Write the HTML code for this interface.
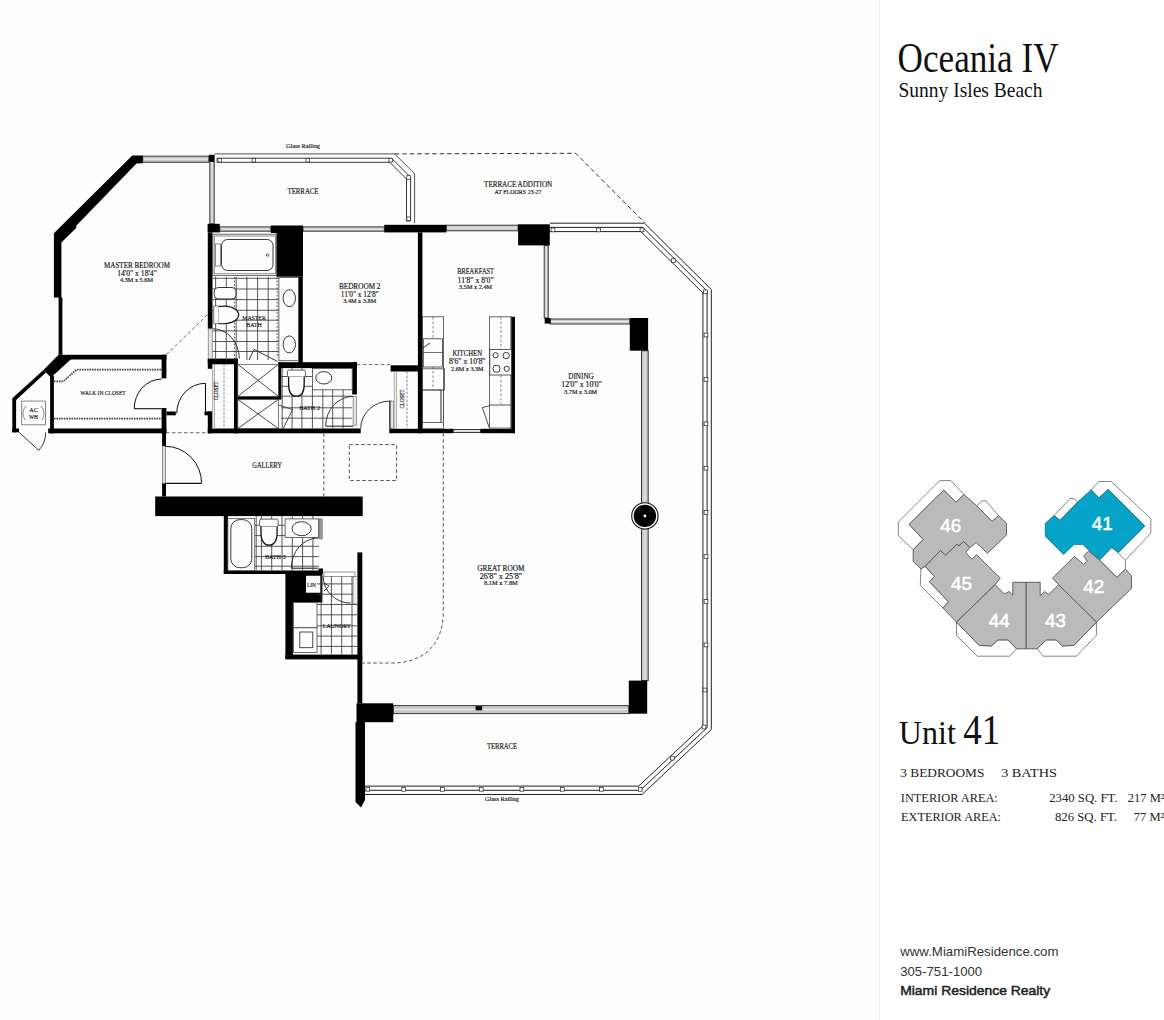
<!DOCTYPE html>
<html><head><meta charset="utf-8"><style>
html,body{margin:0;padding:0;background:#fff;}
body{width:1164px;height:1020px;overflow:hidden;position:relative;font-family:"Liberation Serif",serif;}
.left{position:absolute;left:0;top:0;width:879px;height:1020px;background:#fdfdfd;}
.sep{position:absolute;left:879px;top:0;width:1px;height:1020px;background:#f3f3f3;}
svg{position:absolute;left:0;top:0;}
</style></head><body>
<div class="left"></div><div class="sep"></div>
<svg width="1164" height="1020" viewBox="0 0 1164 1020">
<g id="plan">
<polyline points="549.8,223.2 644.5,223.2 711.3,289.5 711.3,729.5 642.0,794.5 365.0,794.5" fill="none" stroke="#222" stroke-width="1.0" />
<polyline points="549.8,227.4 642.8,227.4 707.1,291.2 707.1,727.7 640.3,790.3 365.0,790.3" fill="none" stroke="#222" stroke-width="1.0" />
<polyline points="549.8,231.6 641.0,231.6 702.9,293.0 702.9,725.9 638.7,786.1 365.0,786.1" fill="none" stroke="#222" stroke-width="1.0" />
<rect x="551.1" y="228.0" width="3.8" height="3.8" fill="#fff" stroke="#222" stroke-width="0.7"/>
<rect x="596.7" y="228.0" width="3.8" height="3.8" fill="#fff" stroke="#222" stroke-width="0.7"/>
<rect x="640.1" y="228.0" width="3.8" height="3.8" fill="#fff" stroke="#222" stroke-width="0.7"/>
<rect x="671.4" y="258.8" width="3.8" height="3.8" fill="#fff" stroke="#222" stroke-width="0.7"/>
<rect x="703.5" y="290.0" width="3.8" height="3.8" fill="#fff" stroke="#222" stroke-width="0.7"/>
<rect x="704.1" y="333.1" width="3.8" height="3.8" fill="#fff" stroke="#222" stroke-width="0.7"/>
<rect x="704.1" y="377.5" width="3.8" height="3.8" fill="#fff" stroke="#222" stroke-width="0.7"/>
<rect x="704.1" y="421.9" width="3.8" height="3.8" fill="#fff" stroke="#222" stroke-width="0.7"/>
<rect x="704.1" y="466.3" width="3.8" height="3.8" fill="#fff" stroke="#222" stroke-width="0.7"/>
<rect x="704.1" y="510.6" width="3.8" height="3.8" fill="#fff" stroke="#222" stroke-width="0.7"/>
<rect x="704.1" y="554.7" width="3.8" height="3.8" fill="#fff" stroke="#222" stroke-width="0.7"/>
<rect x="704.1" y="599.5" width="3.8" height="3.8" fill="#fff" stroke="#222" stroke-width="0.7"/>
<rect x="704.1" y="643.0" width="3.8" height="3.8" fill="#fff" stroke="#222" stroke-width="0.7"/>
<rect x="703.1" y="688.1" width="3.8" height="3.8" fill="#fff" stroke="#222" stroke-width="0.7"/>
<rect x="702.1" y="725.1" width="3.8" height="3.8" fill="#fff" stroke="#222" stroke-width="0.7"/>
<rect x="670.4" y="756.2" width="3.8" height="3.8" fill="#fff" stroke="#222" stroke-width="0.7"/>
<rect x="638.3" y="787.4" width="3.8" height="3.8" fill="#fff" stroke="#222" stroke-width="0.7"/>
<rect x="599.5" y="787.4" width="3.8" height="3.8" fill="#fff" stroke="#222" stroke-width="0.7"/>
<rect x="560.4" y="787.4" width="3.8" height="3.8" fill="#fff" stroke="#222" stroke-width="0.7"/>
<rect x="520.0" y="787.4" width="3.8" height="3.8" fill="#fff" stroke="#222" stroke-width="0.7"/>
<rect x="479.3" y="787.4" width="3.8" height="3.8" fill="#fff" stroke="#222" stroke-width="0.7"/>
<rect x="440.6" y="787.4" width="3.8" height="3.8" fill="#fff" stroke="#222" stroke-width="0.7"/>
<rect x="401.8" y="787.4" width="3.8" height="3.8" fill="#fff" stroke="#222" stroke-width="0.7"/>
<rect x="365.9" y="787.4" width="3.8" height="3.8" fill="#fff" stroke="#222" stroke-width="0.7"/>
<polyline points="214.5,153.9 394.7,153.9 414.6,173.8 414.6,222.9" fill="none" stroke="#222" stroke-width="0.8" />
<polyline points="217.0,158.2 391.5,158.2 410.6,177.3 410.6,221.0" fill="none" stroke="#222" stroke-width="0.9" />
<polyline points="217.0,162.3 389.8,162.3 406.5,179.0 406.5,221.0" fill="none" stroke="#222" stroke-width="0.9" />
<path d="M217,158.2 L217,162.3" stroke="#222" stroke-width="0.8"/>
<path d="M410.6,221 L406.5,221" stroke="#222" stroke-width="0.8"/>
<rect x="218.0" y="158.4" width="3.6" height="3.6" fill="#fff" stroke="#222" stroke-width="0.7"/>
<rect x="252.1" y="158.4" width="3.6" height="3.6" fill="#fff" stroke="#222" stroke-width="0.7"/>
<rect x="306.0" y="158.4" width="3.6" height="3.6" fill="#fff" stroke="#222" stroke-width="0.7"/>
<rect x="388.9" y="158.4" width="3.6" height="3.6" fill="#fff" stroke="#222" stroke-width="0.7"/>
<rect x="406.8" y="175.7" width="3.6" height="3.6" fill="#fff" stroke="#222" stroke-width="0.7"/>
<rect x="406.8" y="217.0" width="3.6" height="3.6" fill="#fff" stroke="#222" stroke-width="0.7"/>
<polyline points="394.7,153.9 575.8,153.3 644.5,222.5" fill="none" stroke="#333" stroke-width="1.0" stroke-dasharray="4.5,3"/>
<rect x="142.7" y="156.2" width="66.2" height="6.1" fill="#c8c8c8" stroke="#3a3a3a" stroke-width="1"/>
<line x1="143.7" y1="159.2" x2="207.9" y2="159.2" stroke="#f4f4f4" stroke-width="0.9"/>
<rect x="209.8" y="161.5" width="4.4" height="62.3" fill="#c8c8c8" stroke="#3a3a3a" stroke-width="1"/>
<line x1="212.0" y1="162.5" x2="212.0" y2="222.8" stroke="#f4f4f4" stroke-width="0.9"/>
<rect x="219.8" y="226.9" width="51.1" height="4.3" fill="#c8c8c8" stroke="#3a3a3a" stroke-width="1"/>
<line x1="220.8" y1="229.1" x2="269.9" y2="229.1" stroke="#f4f4f4" stroke-width="0.9"/>
<rect x="303.0" y="226.9" width="81.3" height="4.3" fill="#c8c8c8" stroke="#3a3a3a" stroke-width="1"/>
<line x1="304.0" y1="229.1" x2="383.3" y2="229.1" stroke="#f4f4f4" stroke-width="0.9"/>
<rect x="446.3" y="225.2" width="71.8" height="5.6" fill="#c8c8c8" stroke="#3a3a3a" stroke-width="1"/>
<line x1="447.3" y1="228.0" x2="517.1" y2="228.0" stroke="#f4f4f4" stroke-width="0.9"/>
<rect x="544.2" y="245.6" width="4.0" height="72.4" fill="#c8c8c8" stroke="#3a3a3a" stroke-width="1"/>
<line x1="546.2" y1="246.6" x2="546.2" y2="317.0" stroke="#f4f4f4" stroke-width="0.9"/>
<rect x="550.4" y="319.0" width="79.4" height="5.0" fill="#c8c8c8" stroke="#3a3a3a" stroke-width="1"/>
<line x1="551.4" y1="321.5" x2="628.8" y2="321.5" stroke="#f4f4f4" stroke-width="0.9"/>
<rect x="641.5" y="350.7" width="6.7" height="329.9" fill="#c8c8c8" stroke="#3a3a3a" stroke-width="1"/>
<line x1="644.9" y1="351.7" x2="644.9" y2="679.6" stroke="#f4f4f4" stroke-width="0.9"/>
<rect x="393.3" y="705.6" width="235.5" height="8.0" fill="#c8c8c8" stroke="#3a3a3a" stroke-width="1"/>
<line x1="394.3" y1="709.6" x2="627.8" y2="709.6" stroke="#f4f4f4" stroke-width="0.9"/>
<rect x="453.2" y="429.5" width="27.4" height="3.0" fill="#c8c8c8" stroke="#3a3a3a" stroke-width="1"/>
<line x1="454.2" y1="431.0" x2="479.6" y2="431.0" stroke="#f4f4f4" stroke-width="0.9"/>
<rect x="475.6" y="706.2" width="6.6" height="4.1" fill="#000" />
<polygon points="132.3,155.4 142.7,155.4 142.7,163.2 136.5,163.4 76.0,226.0 76.6,227.5 61.4,242.5 61.4,297.6 62.4,297.6 62.4,354.8 58.6,354.8 58.6,297.6 53.9,297.6 53.9,233.3" fill="#000" stroke="none" stroke-width="1" />
<rect x="208.9" y="154.8" width="5.7" height="6.7" fill="#000" />
<rect x="207.6" y="223.8" width="12.2" height="8.6" fill="#000" />
<polygon points="270.9,225.4 303.0,225.4 303.0,276.8 276.6,276.8 276.6,233.0 270.9,233.0" fill="#000" stroke="none" stroke-width="1" />
<rect x="384.3" y="224.8" width="62.0" height="7.6" fill="#000" />
<rect x="518.1" y="224.3" width="31.7" height="21.1" fill="#000" />
<rect x="544.7" y="318.0" width="5.7" height="5.6" fill="#000" />
<rect x="629.8" y="318.0" width="18.3" height="32.7" fill="#000" />
<rect x="628.8" y="680.6" width="18.4" height="33.1" fill="#000" />
<rect x="356.5" y="703.3" width="36.8" height="18.9" fill="#000" />
<polygon points="355.5,722.0 365.0,722.0 365.0,800.0 361.0,807.5 355.5,802.0" fill="#000" stroke="none" stroke-width="1" />
<rect x="357.4" y="552.4" width="4.9" height="150.9" fill="#000" />
<rect x="417.9" y="232.4" width="4.5" height="200.8" fill="#000" />
<rect x="510.6" y="316.8" width="4.4" height="116.4" fill="#000" />
<rect x="390.6" y="428.8" width="62.6" height="4.4" fill="#000" />
<rect x="480.6" y="428.8" width="34.4" height="4.4" fill="#000" />
<rect x="390.6" y="365.3" width="31.8" height="6.2" fill="#000" />
<rect x="389.3" y="400.8" width="2.5" height="32.4" fill="#000" />
<rect x="207.8" y="232.4" width="4.7" height="96.4" fill="#000" />
<rect x="298.5" y="276.8" width="4.3" height="87.5" fill="#000" />
<rect x="278.4" y="362.2" width="78.5" height="5.9" fill="#000" />
<rect x="352.2" y="362.2" width="4.7" height="32.3" fill="#000" />
<rect x="207.8" y="358.6" width="30.0" height="5.7" fill="#000" />
<rect x="207.8" y="358.6" width="4.5" height="10.2" fill="#000" />
<rect x="207.8" y="411.5" width="4.5" height="21.8" fill="#000" />
<rect x="234.0" y="358.6" width="3.8" height="74.7" fill="#000" />
<rect x="237.8" y="396.4" width="43.5" height="3.0" fill="#000" />
<rect x="278.4" y="362.2" width="2.9" height="37.2" fill="#000" />
<rect x="207.8" y="428.5" width="152.9" height="4.8" fill="#000" />
<rect x="58.6" y="354.8" width="107.8" height="4.7" fill="#000" />
<rect x="161.6" y="354.8" width="4.8" height="23.6" fill="#000" />
<rect x="161.6" y="408.0" width="4.8" height="25.3" fill="#000" />
<rect x="166.4" y="411.5" width="9.4" height="3.8" fill="#000" />
<rect x="48.2" y="428.5" width="118.2" height="4.8" fill="#000" />
<rect x="162.1" y="428.5" width="3.9" height="17.5" fill="#000" />
<rect x="162.1" y="483.2" width="3.9" height="13.3" fill="#000" />
<polygon points="43.5,370.0 58.6,354.8 62.4,354.8 71.8,358.6 51.0,377.5" fill="#000" stroke="none" stroke-width="1" />
<polygon points="43.5,370.0 46.0,372.5 15.5,400.5 12.3,398.3" fill="#000" stroke="none" stroke-width="1" />
<rect x="12.3" y="398.3" width="3.8" height="34.0" fill="#000" />
<rect x="12.3" y="428.5" width="6.7" height="3.8" fill="#000" />
<rect x="50.1" y="375.6" width="3.8" height="57.7" fill="#000" />
<rect x="155.2" y="496.5" width="207.5" height="19.6" fill="#000" />
<rect x="223.8" y="515.3" width="4.1" height="58.7" fill="#000" />
<rect x="223.8" y="570.5" width="98.4" height="3.5" fill="#000" />
<path d="M285.4,571.6 H322.4 V602.4 H292.9 V658.7 H285.4 Z M306,575.7 V592.8 H320.4 V575.7 Z" fill="#000" fill-rule="evenodd"/>
<rect x="285.4" y="654.6" width="76.9" height="4.8" fill="#000" />
<rect x="318.5" y="568.5" width="4.5" height="5.5" fill="#000" />
<polyline points="166.4,354.8 207.9,314.2" fill="none" stroke="#444" stroke-width="0.8" stroke-dasharray="3.5,2.5"/>
<line x1="166.0" y1="432.7" x2="208.1" y2="432.7" stroke="#444" stroke-width="0.8" stroke-dasharray="3.5,2.5"/>
<line x1="356.9" y1="364.6" x2="390.0" y2="364.6" stroke="#444" stroke-width="0.8" stroke-dasharray="3.5,2.5"/>
<line x1="323.8" y1="433.3" x2="323.8" y2="496.5" stroke="#444" stroke-width="0.9" stroke-dasharray="3.5,2.5"/>
<rect x="349.3" y="444.6" width="47.3" height="35.9" rx="0" fill="none" stroke="#444" stroke-width="0.9" stroke-dasharray="3.5,2.5"/>
<path d="M443.3,433.2 L443.3,612 C443.3,648 420,663 392,663 L361.5,663" fill="none" stroke="#444" stroke-width="0.9" stroke-dasharray="3.5,2.5"/>
<circle cx="644.9" cy="515.9" r="13.2" fill="#fff" stroke="#111" stroke-width="1.1"/>
<circle cx="644.9" cy="515.9" r="11.2" fill="#000"/>
<circle cx="644.9" cy="515.9" r="1.4" fill="#fff"/>
<rect x="162.6" y="446.0" width="3.0" height="37.2" rx="0" fill="#ddd" stroke="#555" stroke-width="0.6" />
<line x1="165.3" y1="483.4" x2="201.5" y2="483.4" stroke="#111" stroke-width="1.1" />
<path d="M165.3,446.3 A36.3,37 0 0 1 201.6,483.3" fill="none" stroke="#111" stroke-width="1.0" />
<line x1="134.2" y1="408.7" x2="161.6" y2="408.7" stroke="#111" stroke-width="1.1" />
<path d="M134.2,408.7 A27.4,29.6 0 0 1 161.6,379.1" fill="none" stroke="#111" stroke-width="1.0" />
<line x1="205.5" y1="383.3" x2="205.5" y2="413.4" stroke="#111" stroke-width="1.1" />
<path d="M176.7,413.4 A28.8,30.1 0 0 1 205.5,383.3" fill="none" stroke="#111" stroke-width="1.0" />
<rect x="204.5" y="411.5" width="7.2" height="3.8" fill="#000" />
<path d="M18.9,432.3 L38.8,450.3 A26.8,26.8 0 0 0 45.7,432.3" fill="none" stroke="#222" stroke-width="0.9" />
<rect x="208.2" y="328.8" width="4.0" height="29.8" rx="0" fill="#e4e4e4" stroke="#666" stroke-width="0.6" />
<path d="M212.8,328.8 A26.5,29.8 0 0 1 239.3,358.6" fill="none" stroke="#222" stroke-width="0.9" />
<polyline points="249.0,360.0 254.0,349.4 277.5,361.4" fill="none" stroke="#222" stroke-width="0.9" />
<rect x="353.1" y="396.4" width="3.5" height="29.3" rx="0" fill="#e4e4e4" stroke="#666" stroke-width="0.6" />
<line x1="325.7" y1="426.2" x2="353.1" y2="426.2" stroke="#111" stroke-width="1.0" />
<path d="M325.7,426 A27.4,29.6 0 0 1 353.1,396.4" fill="none" stroke="#222" stroke-width="0.9" />
<rect x="390.3" y="401.1" width="3.5" height="27.4" rx="0" fill="#e4e4e4" stroke="#666" stroke-width="0.6" />
<path d="M360.7,428.5 A29.3,27.4 0 0 1 390,401.1" fill="none" stroke="#222" stroke-width="0.9" />
<polyline points="278.4,404.9 292.6,409.6 283.2,428.5" fill="none" stroke="#222" stroke-width="0.8" />
<line x1="291.3" y1="568.2" x2="318.1" y2="568.2" stroke="#111" stroke-width="1.0" />
<path d="M291.3,568 A26.8,30 0 0 1 318.1,538" fill="none" stroke="#222" stroke-width="0.9" />
<path d="M323.1,575.7 A27.5,27.4 0 0 0 350.6,603.1" fill="none" stroke="#222" stroke-width="0.9" />
<polyline points="489.4,405.9 482.3,407.5 489.4,428.0" fill="none" stroke="#222" stroke-width="0.8" />
<rect x="212.8" y="234.2" width="63.9" height="41.3" rx="0" fill="none" stroke="#444" stroke-width="0.8" />
<rect x="214.2" y="236.0" width="61.1" height="37.8" rx="0" fill="none" stroke="#444" stroke-width="0.6" />
<rect x="221.5" y="239.5" width="51.5" height="31.0" rx="6" fill="none" stroke="#222" stroke-width="0.9" />
<rect x="215.5" y="244.0" width="5.0" height="22.0" rx="0" fill="none" stroke="#444" stroke-width="0.6" />
<circle cx="267.6" cy="255" r="1.3" fill="none" stroke="#222" stroke-width="0.7"/>
<line x1="215.6" y1="276.8" x2="215.6" y2="360.0" stroke="#3a3a3a" stroke-width="0.85" />
<line x1="226.3" y1="276.8" x2="226.3" y2="360.0" stroke="#3a3a3a" stroke-width="0.85" />
<line x1="236.2" y1="276.8" x2="236.2" y2="360.0" stroke="#3a3a3a" stroke-width="0.85" />
<line x1="246.9" y1="276.8" x2="246.9" y2="360.0" stroke="#3a3a3a" stroke-width="0.85" />
<line x1="257.6" y1="276.8" x2="257.6" y2="360.0" stroke="#3a3a3a" stroke-width="0.85" />
<line x1="268.2" y1="276.8" x2="268.2" y2="360.0" stroke="#3a3a3a" stroke-width="0.85" />
<line x1="212.5" y1="278.3" x2="278.9" y2="278.3" stroke="#3a3a3a" stroke-width="0.85" />
<line x1="212.5" y1="289.0" x2="278.9" y2="289.0" stroke="#3a3a3a" stroke-width="0.85" />
<line x1="212.5" y1="299.6" x2="278.9" y2="299.6" stroke="#3a3a3a" stroke-width="0.85" />
<line x1="212.5" y1="310.3" x2="278.9" y2="310.3" stroke="#3a3a3a" stroke-width="0.85" />
<line x1="212.5" y1="320.2" x2="278.9" y2="320.2" stroke="#3a3a3a" stroke-width="0.85" />
<line x1="212.5" y1="330.9" x2="278.9" y2="330.9" stroke="#3a3a3a" stroke-width="0.85" />
<line x1="212.5" y1="341.5" x2="278.9" y2="341.5" stroke="#3a3a3a" stroke-width="0.85" />
<line x1="212.5" y1="351.5" x2="278.9" y2="351.5" stroke="#3a3a3a" stroke-width="0.85" />
<line x1="234.5" y1="277.0" x2="234.5" y2="358.0" stroke="#444" stroke-width="0.8" stroke-dasharray="2,1.5"/>
<line x1="277.2" y1="277.0" x2="277.2" y2="358.0" stroke="#444" stroke-width="0.8" stroke-dasharray="2,1.5"/>
<rect x="278.9" y="277.6" width="19.6" height="83.1" rx="0" fill="#fdfdfd" stroke="#444" stroke-width="0.8" />
<ellipse cx="289.3" cy="298.2" rx="6.2" ry="8.5" fill="#fdfdfd" stroke="#222" stroke-width="0.9"/>
<ellipse cx="289.3" cy="344.4" rx="6.2" ry="8.5" fill="#fdfdfd" stroke="#222" stroke-width="0.9"/>
<rect x="214.2" y="287.5" width="21.8" height="11.4" rx="4" fill="#fdfdfd" stroke="#222" stroke-width="0.9" />
<rect x="213.8" y="306.0" width="5.2" height="17.8" rx="0" fill="#fdfdfd" stroke="#444" stroke-width="0.7" />
<path d="M219,306.5 C236,304 240,314 238.5,316 C237,322 228,324.5 219,323.5" fill="#fdfdfd" stroke="#111" stroke-width="1.2" />
<line x1="224.0" y1="364.3" x2="224.0" y2="428.5" stroke="#555" stroke-width="0.7" stroke-dasharray="2.5,1.5"/>
<rect x="212.3" y="364.3" width="2.2" height="64.2" rx="0" fill="#e8e8e8" stroke="#777" stroke-width="0.5" />
<rect x="237.8" y="364.3" width="40.6" height="32.1" rx="0" fill="none" stroke="#444" stroke-width="0.7" />
<polyline points="237.8,364.3 278.4,396.4" fill="none" stroke="#333" stroke-width="0.9" />
<polyline points="278.4,364.3 237.8,396.4" fill="none" stroke="#333" stroke-width="0.9" />
<rect x="237.8" y="399.4" width="40.6" height="29.1" rx="0" fill="none" stroke="#444" stroke-width="0.7" />
<polyline points="237.8,399.4 278.4,428.5" fill="none" stroke="#333" stroke-width="0.9" />
<polyline points="278.4,399.4 237.8,428.5" fill="none" stroke="#333" stroke-width="0.9" />
<line x1="282.2" y1="368.1" x2="282.2" y2="428.5" stroke="#3a3a3a" stroke-width="0.85" />
<line x1="292.1" y1="368.1" x2="292.1" y2="428.5" stroke="#3a3a3a" stroke-width="0.85" />
<line x1="301.9" y1="368.1" x2="301.9" y2="428.5" stroke="#3a3a3a" stroke-width="0.85" />
<line x1="312.4" y1="389.8" x2="312.4" y2="428.5" stroke="#3a3a3a" stroke-width="0.85" />
<line x1="322.8" y1="389.8" x2="322.8" y2="428.5" stroke="#3a3a3a" stroke-width="0.85" />
<line x1="332.7" y1="389.8" x2="332.7" y2="428.5" stroke="#3a3a3a" stroke-width="0.85" />
<line x1="343.1" y1="389.8" x2="343.1" y2="428.5" stroke="#3a3a3a" stroke-width="0.85" />
<line x1="281.3" y1="396.2" x2="352.2" y2="396.2" stroke="#3a3a3a" stroke-width="0.85" />
<line x1="281.3" y1="407.8" x2="352.2" y2="407.8" stroke="#3a3a3a" stroke-width="0.85" />
<line x1="281.3" y1="418.2" x2="352.2" y2="418.2" stroke="#3a3a3a" stroke-width="0.85" />
<line x1="281.3" y1="376.5" x2="312.4" y2="376.5" stroke="#3a3a3a" stroke-width="0.85" />
<line x1="281.3" y1="386.3" x2="312.4" y2="386.3" stroke="#3a3a3a" stroke-width="0.85" />
<rect x="287.4" y="370.1" width="18.0" height="6.9" rx="1.5" fill="#fdfdfd" stroke="#333" stroke-width="0.8" />
<path d="M288.6,377 L288.6,384 C288.6,392.5 292,396.2 296.4,396.2 C300.8,396.2 304.2,392.5 304.2,384 L304.2,377" fill="#fdfdfd" stroke="#111" stroke-width="1.3" />
<rect x="312.5" y="368.5" width="39.7" height="21.3" rx="0" fill="#fdfdfd" stroke="#444" stroke-width="0.8" />
<ellipse cx="323.8" cy="377.8" rx="8" ry="6.2" fill="#fdfdfd" stroke="#222" stroke-width="0.9"/>
<line x1="256.2" y1="516.0" x2="256.2" y2="570.5" stroke="#3a3a3a" stroke-width="0.85" />
<line x1="261.4" y1="516.0" x2="261.4" y2="570.5" stroke="#3a3a3a" stroke-width="0.85" />
<line x1="271.7" y1="516.0" x2="271.7" y2="570.5" stroke="#3a3a3a" stroke-width="0.85" />
<line x1="282.0" y1="516.0" x2="282.0" y2="570.5" stroke="#3a3a3a" stroke-width="0.85" />
<line x1="292.3" y1="516.0" x2="292.3" y2="570.5" stroke="#3a3a3a" stroke-width="0.85" />
<line x1="302.6" y1="516.0" x2="302.6" y2="570.5" stroke="#3a3a3a" stroke-width="0.85" />
<line x1="312.9" y1="516.0" x2="312.9" y2="570.5" stroke="#3a3a3a" stroke-width="0.85" />
<line x1="254.7" y1="535.6" x2="319.0" y2="535.6" stroke="#3a3a3a" stroke-width="0.85" />
<line x1="254.7" y1="546.3" x2="319.0" y2="546.3" stroke="#3a3a3a" stroke-width="0.85" />
<line x1="254.7" y1="556.6" x2="319.0" y2="556.6" stroke="#3a3a3a" stroke-width="0.85" />
<line x1="254.7" y1="566.2" x2="319.0" y2="566.2" stroke="#3a3a3a" stroke-width="0.85" />
<line x1="254.7" y1="525.3" x2="284.7" y2="525.3" stroke="#3a3a3a" stroke-width="0.85" />
<rect x="227.9" y="518.4" width="26.8" height="52.1" rx="0" fill="#fdfdfd" stroke="#444" stroke-width="0.7" />
<rect x="230.8" y="519.6" width="21.0" height="48.1" rx="9" fill="none" stroke="#222" stroke-width="0.9" />
<rect x="259.6" y="519.1" width="18.6" height="7.6" rx="1.5" fill="#fdfdfd" stroke="#333" stroke-width="0.8" />
<path d="M261,526.7 L261,533 C261,541.5 265,545.2 269.1,545.2 C273.2,545.2 277.1,541.5 277.1,533 L277.1,526.7" fill="#fdfdfd" stroke="#111" stroke-width="1.3" />
<rect x="285.1" y="518.9" width="33.5" height="18.6" rx="0" fill="#fdfdfd" stroke="#444" stroke-width="0.8" />
<ellipse cx="301.6" cy="528.7" rx="9.6" ry="7" fill="#fdfdfd" stroke="#222" stroke-width="0.9"/>
<rect x="319.1" y="518.9" width="3.1" height="20.1" rx="0" fill="#999" stroke="#555" stroke-width="0.5" />
<line x1="321.1" y1="575.0" x2="321.1" y2="654.6" stroke="#3a3a3a" stroke-width="0.85" />
<line x1="331.4" y1="575.0" x2="331.4" y2="654.6" stroke="#3a3a3a" stroke-width="0.85" />
<line x1="341.7" y1="575.0" x2="341.7" y2="654.6" stroke="#3a3a3a" stroke-width="0.85" />
<line x1="352.0" y1="575.0" x2="352.0" y2="654.6" stroke="#3a3a3a" stroke-width="0.85" />
<line x1="317.0" y1="583.9" x2="357.4" y2="583.9" stroke="#3a3a3a" stroke-width="0.85" />
<line x1="317.0" y1="594.2" x2="357.4" y2="594.2" stroke="#3a3a3a" stroke-width="0.85" />
<line x1="317.0" y1="604.5" x2="357.4" y2="604.5" stroke="#3a3a3a" stroke-width="0.85" />
<line x1="317.0" y1="614.8" x2="357.4" y2="614.8" stroke="#3a3a3a" stroke-width="0.85" />
<line x1="317.0" y1="625.8" x2="357.4" y2="625.8" stroke="#3a3a3a" stroke-width="0.85" />
<line x1="317.0" y1="636.1" x2="357.4" y2="636.1" stroke="#3a3a3a" stroke-width="0.85" />
<line x1="317.0" y1="646.4" x2="357.4" y2="646.4" stroke="#3a3a3a" stroke-width="0.85" />
<rect x="324.0" y="572.0" width="31.0" height="4.5" rx="0" fill="#fdfdfd" stroke="#555" stroke-width="0.6" />
<rect x="353.0" y="576.5" width="4.4" height="27.5" rx="0" fill="#eee" stroke="#555" stroke-width="0.6" />
<rect x="293.6" y="602.4" width="23.4" height="25.4" rx="0" fill="#fdfdfd" stroke="#444" stroke-width="0.8" />
<rect x="293.6" y="627.8" width="23.4" height="24.7" rx="0" fill="#fdfdfd" stroke="#444" stroke-width="0.8" />
<rect x="299.8" y="632.0" width="13.0" height="15.7" rx="0" fill="none" stroke="#222" stroke-width="0.8" />
<polyline points="324.0,583.0 329.0,586.0 324.0,591.0" fill="none" stroke="#222" stroke-width="0.8" />
<rect x="422.4" y="316.8" width="21.1" height="112.0" rx="0" fill="none" stroke="#444" stroke-width="0.8" />
<line x1="433.0" y1="317.0" x2="433.0" y2="390.0" stroke="#555" stroke-width="0.7" stroke-dasharray="2.5,2"/>
<rect x="423.3" y="338.8" width="19.3" height="28.2" rx="0" fill="#fdfdfd" stroke="#333" stroke-width="0.8" />
<line x1="423.3" y1="352.5" x2="442.6" y2="352.5" stroke="#333" stroke-width="0.7" />
<rect x="422.4" y="368.8" width="22.0" height="21.2" rx="0" fill="none" stroke="#444" stroke-width="0.8" />
<rect x="422.4" y="390.0" width="18.6" height="32.6" rx="0" fill="none" stroke="#444" stroke-width="0.8" />
<rect x="441.0" y="390.0" width="2.5" height="32.6" rx="0" fill="none" stroke="#444" stroke-width="0.6" />
<line x1="420.0" y1="350.0" x2="430.0" y2="343.0" stroke="#222" stroke-width="0.9" />
<rect x="489.4" y="316.8" width="22.1" height="111.2" rx="0" fill="none" stroke="#444" stroke-width="0.8" />
<line x1="500.9" y1="317.0" x2="500.9" y2="404.0" stroke="#555" stroke-width="0.7" stroke-dasharray="2.5,2"/>
<rect x="489.8" y="349.4" width="21.7" height="25.6" rx="0" fill="#fdfdfd" stroke="#333" stroke-width="0.8" />
<circle cx="495.6" cy="355.2" r="2.6" fill="none" stroke="#222" stroke-width="0.9"/>
<circle cx="506.2" cy="355.6" r="3.2" fill="none" stroke="#222" stroke-width="0.9"/>
<circle cx="496.5" cy="368.8" r="3.6" fill="none" stroke="#222" stroke-width="0.9"/>
<circle cx="506.7" cy="368.8" r="2.6" fill="none" stroke="#222" stroke-width="0.9"/>
<line x1="489.4" y1="405.0" x2="511.5" y2="405.0" stroke="#444" stroke-width="0.9" />
<line x1="407.0" y1="371.5" x2="407.0" y2="428.8" stroke="#555" stroke-width="0.7" stroke-dasharray="2.5,1.5"/>
<rect x="394.1" y="371.5" width="2.7" height="57.0" rx="0" fill="#e8e8e8" stroke="#777" stroke-width="0.5" />
<polyline points="53.9,381.3 63.3,381.3 76.6,369.6 161.6,369.6" fill="none" stroke="#444" stroke-width="1.7" stroke-dasharray="1.6,0.9"/>
<line x1="53.9" y1="418.7" x2="161.6" y2="418.7" stroke="#444" stroke-width="1.7" stroke-dasharray="1.6,0.9"/>
<rect x="21.7" y="401.1" width="23.7" height="23.7" rx="0" fill="none" stroke="#666" stroke-width="0.8" />
<path d="M26,406 A11,11 0 0 0 25,420 M41,406 A11,11 0 0 1 42,420" fill="none" stroke="#555" stroke-width="0.7" />
<text x="303.0" y="147.5" font-family="Liberation Serif" font-size="6.5" text-anchor="middle" fill="#1a1a1a" font-weight="normal" textLength="34.0" lengthAdjust="spacingAndGlyphs"  stroke="#1a1a1a" stroke-width="0.18">Glass Railing</text>
<text x="303.0" y="194.3" font-family="Liberation Serif" font-size="8" text-anchor="middle" fill="#1a1a1a" font-weight="normal" textLength="31.0" lengthAdjust="spacingAndGlyphs"  stroke="#1a1a1a" stroke-width="0.18">TERRACE</text>
<text x="518.1" y="187.1" font-family="Liberation Serif" font-size="8" text-anchor="middle" fill="#1a1a1a" font-weight="normal" textLength="68.0" lengthAdjust="spacingAndGlyphs"  stroke="#1a1a1a" stroke-width="0.18">TERRACE ADDITION</text>
<text x="518.1" y="193.7" font-family="Liberation Serif" font-size="6.5" text-anchor="middle" fill="#1a1a1a" font-weight="normal" textLength="47.0" lengthAdjust="spacingAndGlyphs"  stroke="#1a1a1a" stroke-width="0.18">AT FLOORS 23-27</text>
<text x="137.0" y="267.6" font-family="Liberation Serif" font-size="8" text-anchor="middle" fill="#1a1a1a" font-weight="normal" textLength="66.0" lengthAdjust="spacingAndGlyphs"  stroke="#1a1a1a" stroke-width="0.18">MASTER BEDROOM</text>
<text x="137.0" y="276.2" font-family="Liberation Serif" font-size="8" text-anchor="middle" fill="#1a1a1a" font-weight="normal" textLength="39.7" lengthAdjust="spacingAndGlyphs"  stroke="#1a1a1a" stroke-width="0.18">14'0&quot; x 18'4&quot;</text>
<text x="136.5" y="282.3" font-family="Liberation Serif" font-size="6" text-anchor="middle" fill="#1a1a1a" font-weight="normal" textLength="33.0" lengthAdjust="spacingAndGlyphs"  stroke="#1a1a1a" stroke-width="0.18">4.3M x 5.6M</text>
<text x="359.7" y="288.8" font-family="Liberation Serif" font-size="8" text-anchor="middle" fill="#1a1a1a" font-weight="normal" textLength="41.6" lengthAdjust="spacingAndGlyphs"  stroke="#1a1a1a" stroke-width="0.18">BEDROOM 2</text>
<text x="359.7" y="296.6" font-family="Liberation Serif" font-size="8" text-anchor="middle" fill="#1a1a1a" font-weight="normal" textLength="37.8" lengthAdjust="spacingAndGlyphs"  stroke="#1a1a1a" stroke-width="0.18">11'0&quot; x 12'8&quot;</text>
<text x="359.7" y="303.2" font-family="Liberation Serif" font-size="6" text-anchor="middle" fill="#1a1a1a" font-weight="normal" textLength="33.0" lengthAdjust="spacingAndGlyphs"  stroke="#1a1a1a" stroke-width="0.18">3.4M x 3.8M</text>
<text x="475.6" y="274.1" font-family="Liberation Serif" font-size="8" text-anchor="middle" fill="#1a1a1a" font-weight="normal" textLength="36.9" lengthAdjust="spacingAndGlyphs"  stroke="#1a1a1a" stroke-width="0.18">BREAKFAST</text>
<text x="475.6" y="282.8" font-family="Liberation Serif" font-size="8" text-anchor="middle" fill="#1a1a1a" font-weight="normal" textLength="36.0" lengthAdjust="spacingAndGlyphs"  stroke="#1a1a1a" stroke-width="0.18">11'8&quot; x 8'0&quot;</text>
<text x="475.6" y="289.2" font-family="Liberation Serif" font-size="6" text-anchor="middle" fill="#1a1a1a" font-weight="normal" textLength="33.0" lengthAdjust="spacingAndGlyphs"  stroke="#1a1a1a" stroke-width="0.18">3.5M x 2.4M</text>
<text x="254.0" y="319.7" font-family="Liberation Serif" font-size="7" text-anchor="middle" fill="#1a1a1a" font-weight="normal" textLength="23.5" lengthAdjust="spacingAndGlyphs"  stroke="#1a1a1a" stroke-width="0.18">MASTER</text>
<text x="254.0" y="326.8" font-family="Liberation Serif" font-size="7" text-anchor="middle" fill="#1a1a1a" font-weight="normal" textLength="15.6" lengthAdjust="spacingAndGlyphs"  stroke="#1a1a1a" stroke-width="0.18">BATH</text>
<text x="467.3" y="356.0" font-family="Liberation Serif" font-size="7.5" text-anchor="middle" fill="#1a1a1a" font-weight="normal" textLength="29.6" lengthAdjust="spacingAndGlyphs"  stroke="#1a1a1a" stroke-width="0.18">KITCHEN</text>
<text x="467.3" y="364.4" font-family="Liberation Serif" font-size="8" text-anchor="middle" fill="#1a1a1a" font-weight="normal" textLength="36.4" lengthAdjust="spacingAndGlyphs"  stroke="#1a1a1a" stroke-width="0.18">8'6&quot; x 10'8&quot;</text>
<text x="467.3" y="370.8" font-family="Liberation Serif" font-size="6" text-anchor="middle" fill="#1a1a1a" font-weight="normal" textLength="32.6" lengthAdjust="spacingAndGlyphs"  stroke="#1a1a1a" stroke-width="0.18">2.6M x 3.3M</text>
<text x="581.0" y="378.6" font-family="Liberation Serif" font-size="8" text-anchor="middle" fill="#1a1a1a" font-weight="normal" textLength="25.5" lengthAdjust="spacingAndGlyphs"  stroke="#1a1a1a" stroke-width="0.18">DINING</text>
<text x="581.6" y="386.7" font-family="Liberation Serif" font-size="8" text-anchor="middle" fill="#1a1a1a" font-weight="normal" textLength="40.6" lengthAdjust="spacingAndGlyphs"  stroke="#1a1a1a" stroke-width="0.18">12'0&quot; x 10'0&quot;</text>
<text x="580.6" y="393.7" font-family="Liberation Serif" font-size="6" text-anchor="middle" fill="#1a1a1a" font-weight="normal" textLength="33.0" lengthAdjust="spacingAndGlyphs"  stroke="#1a1a1a" stroke-width="0.18">3.7M x 3.0M</text>
<text x="103.0" y="394.7" font-family="Liberation Serif" font-size="6.5" text-anchor="middle" fill="#1a1a1a" font-weight="normal" textLength="45.4" lengthAdjust="spacingAndGlyphs"  stroke="#1a1a1a" stroke-width="0.18">WALK IN CLOSET</text>
<text x="33.5" y="411.5" font-family="Liberation Serif" font-size="6" text-anchor="middle" fill="#1a1a1a" font-weight="normal" textLength="8.5" lengthAdjust="spacingAndGlyphs"  stroke="#1a1a1a" stroke-width="0.18">AC</text>
<text x="33.5" y="418.5" font-family="Liberation Serif" font-size="6" text-anchor="middle" fill="#1a1a1a" font-weight="normal" textLength="9.0" lengthAdjust="spacingAndGlyphs"  stroke="#1a1a1a" stroke-width="0.18">WH</text>
<text x="216.4" y="392.9" font-family="Liberation Serif" font-size="6" text-anchor="middle" fill="#1a1a1a" font-weight="normal" textLength="18.8" lengthAdjust="spacingAndGlyphs" transform="rotate(-90 216.4 390.9)" stroke="#1a1a1a" stroke-width="0.18">CLOSET</text>
<text x="401.9" y="401.0" font-family="Liberation Serif" font-size="6" text-anchor="middle" fill="#1a1a1a" font-weight="normal" textLength="19.0" lengthAdjust="spacingAndGlyphs" transform="rotate(-90 401.9 399.0)" stroke="#1a1a1a" stroke-width="0.18">CLOSET</text>
<text x="309.6" y="409.5" font-family="Liberation Serif" font-size="6.5" text-anchor="middle" fill="#1a1a1a" font-weight="normal" textLength="20.8" lengthAdjust="spacingAndGlyphs"  stroke="#1a1a1a" stroke-width="0.18">BATH 2</text>
<text x="267.1" y="467.9" font-family="Liberation Serif" font-size="7.5" text-anchor="middle" fill="#1a1a1a" font-weight="normal" textLength="29.7" lengthAdjust="spacingAndGlyphs"  stroke="#1a1a1a" stroke-width="0.18">GALLERY</text>
<text x="275.3" y="558.5" font-family="Liberation Serif" font-size="6" text-anchor="middle" fill="#1a1a1a" font-weight="normal" textLength="20.6" lengthAdjust="spacingAndGlyphs"  stroke="#1a1a1a" stroke-width="0.18">BATH 3</text>
<text x="311.5" y="586.6" font-family="Liberation Serif" font-size="6" text-anchor="middle" fill="#1a1a1a" font-weight="normal" textLength="8.9" lengthAdjust="spacingAndGlyphs"  stroke="#1a1a1a" stroke-width="0.18">LIN</text>
<text x="336.9" y="627.8" font-family="Liberation Serif" font-size="6" text-anchor="middle" fill="#1a1a1a" font-weight="normal" textLength="28.1" lengthAdjust="spacingAndGlyphs"  stroke="#1a1a1a" stroke-width="0.18">LAUNDRY</text>
<text x="500.9" y="571.0" font-family="Liberation Serif" font-size="7.5" text-anchor="middle" fill="#1a1a1a" font-weight="normal" textLength="47.3" lengthAdjust="spacingAndGlyphs"  stroke="#1a1a1a" stroke-width="0.18">GREAT ROOM</text>
<text x="500.9" y="578.6" font-family="Liberation Serif" font-size="8" text-anchor="middle" fill="#1a1a1a" font-weight="normal" textLength="42.5" lengthAdjust="spacingAndGlyphs"  stroke="#1a1a1a" stroke-width="0.18">26'8&quot; x 25'8&quot;</text>
<text x="500.9" y="585.1" font-family="Liberation Serif" font-size="6.4" text-anchor="middle" fill="#1a1a1a" font-weight="normal" textLength="33.9" lengthAdjust="spacingAndGlyphs"  stroke="#1a1a1a" stroke-width="0.18">8.1M x 7.8M</text>
<text x="502.0" y="749.4" font-family="Liberation Serif" font-size="8" text-anchor="middle" fill="#1a1a1a" font-weight="normal" textLength="30.2" lengthAdjust="spacingAndGlyphs"  stroke="#1a1a1a" stroke-width="0.18">TERRACE</text>
<text x="502.0" y="800.9" font-family="Liberation Serif" font-size="6.5" text-anchor="middle" fill="#1a1a1a" font-weight="normal" textLength="34.0" lengthAdjust="spacingAndGlyphs"  stroke="#1a1a1a" stroke-width="0.18">Glass Railing</text>
</g>
<g id="panel">
<text x="897.6" y="71.7" font-family="Liberation Serif" font-size="43" text-anchor="start" fill="#111" font-weight="normal" textLength="161.0" lengthAdjust="spacingAndGlyphs" >Oceania IV</text>
<text x="898.5" y="96.5" font-family="Liberation Serif" font-size="21" text-anchor="start" fill="#111" font-weight="normal" textLength="144.0" lengthAdjust="spacingAndGlyphs" >Sunny Isles Beach</text>
<text x="898.8" y="744.2" font-family="Liberation Serif" font-size="34" text-anchor="start" fill="#111" font-weight="normal" textLength="57.0" lengthAdjust="spacingAndGlyphs" >Unit</text>
<text x="963.3" y="744.2" font-family="Liberation Serif" font-size="42" text-anchor="start" fill="#111" font-weight="normal" textLength="37.0" lengthAdjust="spacingAndGlyphs" >41</text>
<text x="900.3" y="776.6" font-family="Liberation Serif" font-size="13" text-anchor="start" fill="#222" font-weight="normal" textLength="84.0" lengthAdjust="spacingAndGlyphs" >3 BEDROOMS</text>
<text x="1001.2" y="776.6" font-family="Liberation Serif" font-size="13" text-anchor="start" fill="#222" font-weight="normal" textLength="55.8" lengthAdjust="spacingAndGlyphs" >3 BATHS</text>
<text x="900.8" y="801.9" font-family="Liberation Serif" font-size="12.5" text-anchor="start" fill="#222" font-weight="normal" textLength="97.0" lengthAdjust="spacingAndGlyphs" >INTERIOR AREA:</text>
<text x="1049.2" y="801.9" font-family="Liberation Serif" font-size="12.5" text-anchor="start" fill="#222" font-weight="normal" textLength="68.4" lengthAdjust="spacingAndGlyphs" >2340 SQ. FT.</text>
<text x="1127.8" y="801.9" font-family="Liberation Serif" font-size="12.5" text-anchor="start" fill="#222" font-weight="normal"  >217 M²</text>
<text x="901.0" y="820.7" font-family="Liberation Serif" font-size="12.5" text-anchor="start" fill="#222" font-weight="normal" textLength="100.0" lengthAdjust="spacingAndGlyphs" >EXTERIOR AREA:</text>
<text x="1055.0" y="820.7" font-family="Liberation Serif" font-size="12.5" text-anchor="start" fill="#222" font-weight="normal" textLength="62.0" lengthAdjust="spacingAndGlyphs" >826 SQ. FT.</text>
<text x="1133.8" y="820.7" font-family="Liberation Serif" font-size="12.5" text-anchor="start" fill="#222" font-weight="normal"  >77 M²</text>
<text x="900.2" y="955.6" font-family="Liberation Sans" font-size="13.5" text-anchor="start" fill="#333" font-weight="normal" textLength="158.3" lengthAdjust="spacingAndGlyphs" >www.MiamiResidence.com</text>
<text x="900.2" y="975.5" font-family="Liberation Sans" font-size="13.5" text-anchor="start" fill="#333" font-weight="normal" textLength="82.0" lengthAdjust="spacingAndGlyphs" >305-751-1000</text>
<text x="900.2" y="995.3" font-family="Liberation Sans" font-size="13.5" text-anchor="start" fill="#222" font-weight="normal" textLength="150.0" lengthAdjust="spacingAndGlyphs" stroke="#222" stroke-width="0.5">Miami Residence Realty</text>
<g id="key" stroke-linejoin="miter">
<polygon points="939.7,480.6 950.9,480.6 963.8,494.4 956.2,502.3 943.8,490.1 909.1,524.4 923.2,539.5 913.2,549.7 898.3,535.6 898.3,522.1" fill="#fff" stroke="#666" stroke-width="0.8"/>
<polygon points="976.8,505.8 982.0,501.0 986.0,501.0 998.5,515.6 992.1,521.5" fill="#fff" stroke="#666" stroke-width="0.8"/>
<polygon points="920.9,568.8 920.3,585.3 943.0,608.0 948.5,601.9 929.5,581.7 934.4,576.5 925.2,566.3" fill="#fff" stroke="#666" stroke-width="0.8"/>
<polygon points="956.5,622.1 956.5,635.6 977.3,656.2 1009.8,656.2 1016.5,648.8 1007.9,639.9 998.1,639.9 991.4,646.0 979.1,645.4" fill="#fff" stroke="#666" stroke-width="0.8"/>
<polygon points="1096.6,622.1 1096.6,635.0 1076.4,656.2 1043.3,656.2 1037.2,648.8 1046.3,639.9 1056.2,639.9 1062.3,646.0 1073.9,645.4" fill="#fff" stroke="#666" stroke-width="0.8"/>
<polygon points="1091.2,489.7 1098.8,481.5 1111.2,481.5 1150.8,518.6 1150.8,533.2 1125.4,560.2 1125.4,569.2 1116.8,577.4 1099.7,560.2 1111.8,547.4 1118.2,552.6 1144.7,525.9 1108.2,489.4 1098.8,497.9" fill="#fff" stroke="#666" stroke-width="0.8"/>
<polygon points="1054.1,515.6 1070.0,498.5 1074.1,498.5 1077.6,502.1 1060.0,520.3" fill="#fff" stroke="#666" stroke-width="0.8"/>
<line x1="1118.4" y1="553.3" x2="1125.4" y2="560.2" stroke="#666" stroke-width="0.8" />
<polygon points="943.8,490.1 956.2,502.3 963.8,494.4 976.8,505.8 992.1,521.5 998.5,515.6 1006.5,523.2 1006.5,535.0 987.4,553.2 976.2,542.6 970.0,547.6 963.6,541.5 958.9,545.9 957.1,544.3 945.4,555.3 940.5,550.4 925.2,566.3 920.9,568.8 913.2,561.5 913.2,549.7 923.2,539.5 909.1,524.4" fill="#bababa" stroke="#555" stroke-width="0.9"/>
<polygon points="925.2,566.3 940.5,550.4 945.4,555.3 957.1,544.3 958.9,545.9 963.6,541.5 970.0,547.6 965.7,552.3 971.8,559.0 976.7,554.7 1000.3,578.2 995.1,584.7 956.5,622.1 943.0,608.0 948.5,601.9 929.5,581.7 934.4,576.5" fill="#bababa" stroke="#555" stroke-width="0.9"/>
<polygon points="995.1,584.7 1004.3,593.9 1009.2,591.5 1012.8,595.1 1012.8,582.3 1026.2,582.3 1026.2,648.8 1016.5,648.8 1007.9,639.9 998.1,639.9 991.4,646.0 979.1,645.4 956.5,622.1" fill="#bababa" stroke="#555" stroke-width="0.9"/>
<polygon points="1026.2,582.3 1040.2,582.3 1040.2,595.8 1044.5,591.5 1048.8,594.5 1058.6,584.7 1096.6,622.1 1073.9,645.4 1062.3,646.0 1056.2,639.9 1046.3,639.9 1037.2,648.8 1026.2,648.8" fill="#bababa" stroke="#555" stroke-width="0.9"/>
<polygon points="1058.6,584.7 1052.5,578.0 1074.5,556.5 1083.7,564.5 1087.2,561.1 1083.7,555.9 1088.6,551.0 1099.7,560.2 1116.8,577.4 1125.4,569.2 1131.5,575.5 1131.5,588.4 1096.6,622.1" fill="#bababa" stroke="#555" stroke-width="0.9"/>
<polygon points="1091.2,489.7 1098.8,497.9 1108.2,489.4 1144.7,525.9 1118.2,552.6 1111.8,547.4 1099.4,559.7 1088.8,550.3 1082.9,544.4 1074.1,544.4 1063.5,554.4 1045.3,536.2 1045.3,523.2 1054.1,515.6 1060.0,520.3 1077.6,502.1" fill="#05a3c8" stroke="#1b6f86" stroke-width="0.8"/>
<text x="950.7" y="531.5" font-family="Liberation Sans" font-size="19" text-anchor="middle" fill="#fff" font-weight="normal" textLength="21.0" lengthAdjust="spacingAndGlyphs" stroke="#fff" stroke-width="0.55">46</text>
<text x="961.5" y="589.7" font-family="Liberation Sans" font-size="19" text-anchor="middle" fill="#fff" font-weight="normal" textLength="21.0" lengthAdjust="spacingAndGlyphs" stroke="#fff" stroke-width="0.55">45</text>
<text x="999.2" y="627.0" font-family="Liberation Sans" font-size="19" text-anchor="middle" fill="#fff" font-weight="normal" textLength="21.0" lengthAdjust="spacingAndGlyphs" stroke="#fff" stroke-width="0.55">44</text>
<text x="1055.5" y="627.0" font-family="Liberation Sans" font-size="19" text-anchor="middle" fill="#fff" font-weight="normal" textLength="21.0" lengthAdjust="spacingAndGlyphs" stroke="#fff" stroke-width="0.55">43</text>
<text x="1093.7" y="592.7" font-family="Liberation Sans" font-size="19" text-anchor="middle" fill="#fff" font-weight="normal" textLength="21.0" lengthAdjust="spacingAndGlyphs" stroke="#fff" stroke-width="0.55">42</text>
<text x="1102.3" y="529.7" font-family="Liberation Sans" font-size="19" text-anchor="middle" fill="#fff" font-weight="normal" textLength="21.0" lengthAdjust="spacingAndGlyphs" stroke="#fff" stroke-width="0.55">41</text>
</g>
</g>
</svg>
</body></html>
